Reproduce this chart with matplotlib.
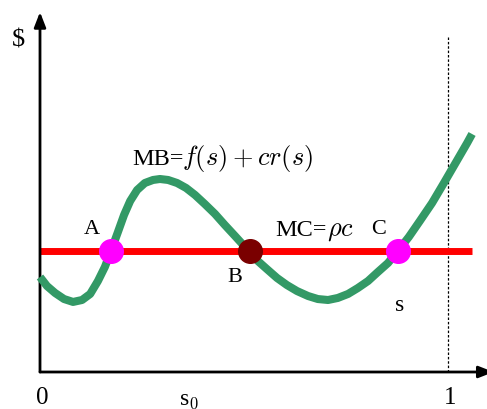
"""
Sketch: marginal benefit vs marginal cost with three crossing points A, B, C.
Writes out.png
"""
import matplotlib.pyplot as plt

plt.rcParams.update({
    "font.family": ["Liberation Serif", "DejaVu Serif"],
    "mathtext.fontset": "cm",
})

GREEN = "#339966"
RED = "#ff0000"
MAGENTA = "#ff00ff"
MAROON = "#7a0000"

# MB curve (s from 0 to ~1.06, $ in units of MC)
s_curve = [0.000, 0.017, 0.037, 0.059, 0.081, 0.103, 0.123, 0.142, 0.159,
           0.174, 0.191, 0.206, 0.221, 0.238, 0.257, 0.277, 0.294, 0.314,
           0.336, 0.358, 0.380, 0.404, 0.429, 0.453, 0.478, 0.498, 0.515,
           0.534, 0.556, 0.581, 0.605, 0.630, 0.657, 0.681, 0.706, 0.730,
           0.755, 0.779, 0.804, 0.828, 0.853, 0.877, 0.904, 0.931, 0.961,
           0.990, 1.020, 1.047, 1.059]
mb_curve = [0.785, 0.711, 0.653, 0.603, 0.579, 0.595, 0.645, 0.752, 0.868,
            1.000, 1.157, 1.298, 1.413, 1.504, 1.562, 1.587, 1.595, 1.587,
            1.562, 1.521, 1.463, 1.388, 1.306, 1.215, 1.124, 1.050, 1.000,
            0.917, 0.851, 0.777, 0.719, 0.669, 0.628, 0.603, 0.595, 0.612,
            0.645, 0.694, 0.752, 0.826, 0.901, 1.000, 1.116, 1.248, 1.397,
            1.562, 1.736, 1.893, 1.967]

mc_level = 1.0
mc_span = [0.0, 1.059]

stable_s = [0.174, 0.877]     # A, C (magenta)
unstable_s = [0.515]          # B (dark red)

fig = plt.figure(figsize=(4.87, 4.10), dpi=100)
ax = fig.add_axes([0, 0, 1, 1])
ax.set_xlim(-40 / 408, 447 / 408)
ax.set_ylim(-37 / 121, 373 / 121)
ax.axis("off")

# axes with arrow heads
arrow = dict(arrowstyle="-|>,head_length=0.9,head_width=0.35", color="black",
             lw=2, shrinkA=0, shrinkB=0)
ax.annotate("", xy=(0, 2.975), xytext=(0, 0), arrowprops=arrow,
            annotation_clip=False)
ax.annotate("", xy=(1.112, 0), xytext=(0, 0), arrowprops=arrow,
            annotation_clip=False)

# s = 1 boundary
ax.plot([1, 1], [0, 2.77], color="black", lw=0.9, ls=(0, (2, 1.5)))

ax.plot(mc_span, [mc_level] * 2, color=RED, lw=5, solid_capstyle="butt", zorder=2)
ax.plot(s_curve, mb_curve, color=GREEN, lw=5.8, solid_joinstyle="round",
        solid_capstyle="butt", zorder=3)
ax.plot(stable_s, [mc_level] * len(stable_s), "o", color=MAGENTA, ms=17, zorder=4)
ax.plot(unstable_s, [mc_level] * len(unstable_s), "o", color=MAROON, ms=17, zorder=4)

ax.text(-0.054, 2.75, "$", fontsize=19, ha="center", va="center")
ax.text(0.005, -0.205, "0", fontsize=18, ha="center", va="center")
ax.text(1.005, -0.205, "1", fontsize=18, ha="center", va="center")
ax.text(0.365, -0.225, "s$_0$", fontsize=17, ha="center", va="center")

ax.text(0.225, 1.719, "MB=", fontsize=17.5, ha="left", va="baseline")
ax.text(0.348, 1.719, "$f(s) + cr(s)$", fontsize=19, ha="left", va="baseline")
ax.text(0.576, 1.132, "MC=", fontsize=17.5, ha="left", va="baseline")
ax.text(0.703, 1.132, r"$\rho c$", fontsize=19, ha="left", va="baseline")

ax.text(0.127, 1.19, "A", fontsize=16, ha="center", va="center")
ax.text(0.478, 0.79, "B", fontsize=16, ha="center", va="center")
ax.text(0.831, 1.19, "C", fontsize=16, ha="center", va="center")
ax.text(0.882, 0.56, "s", fontsize=17, ha="center", va="center")

fig.savefig("out.png", dpi=100)
